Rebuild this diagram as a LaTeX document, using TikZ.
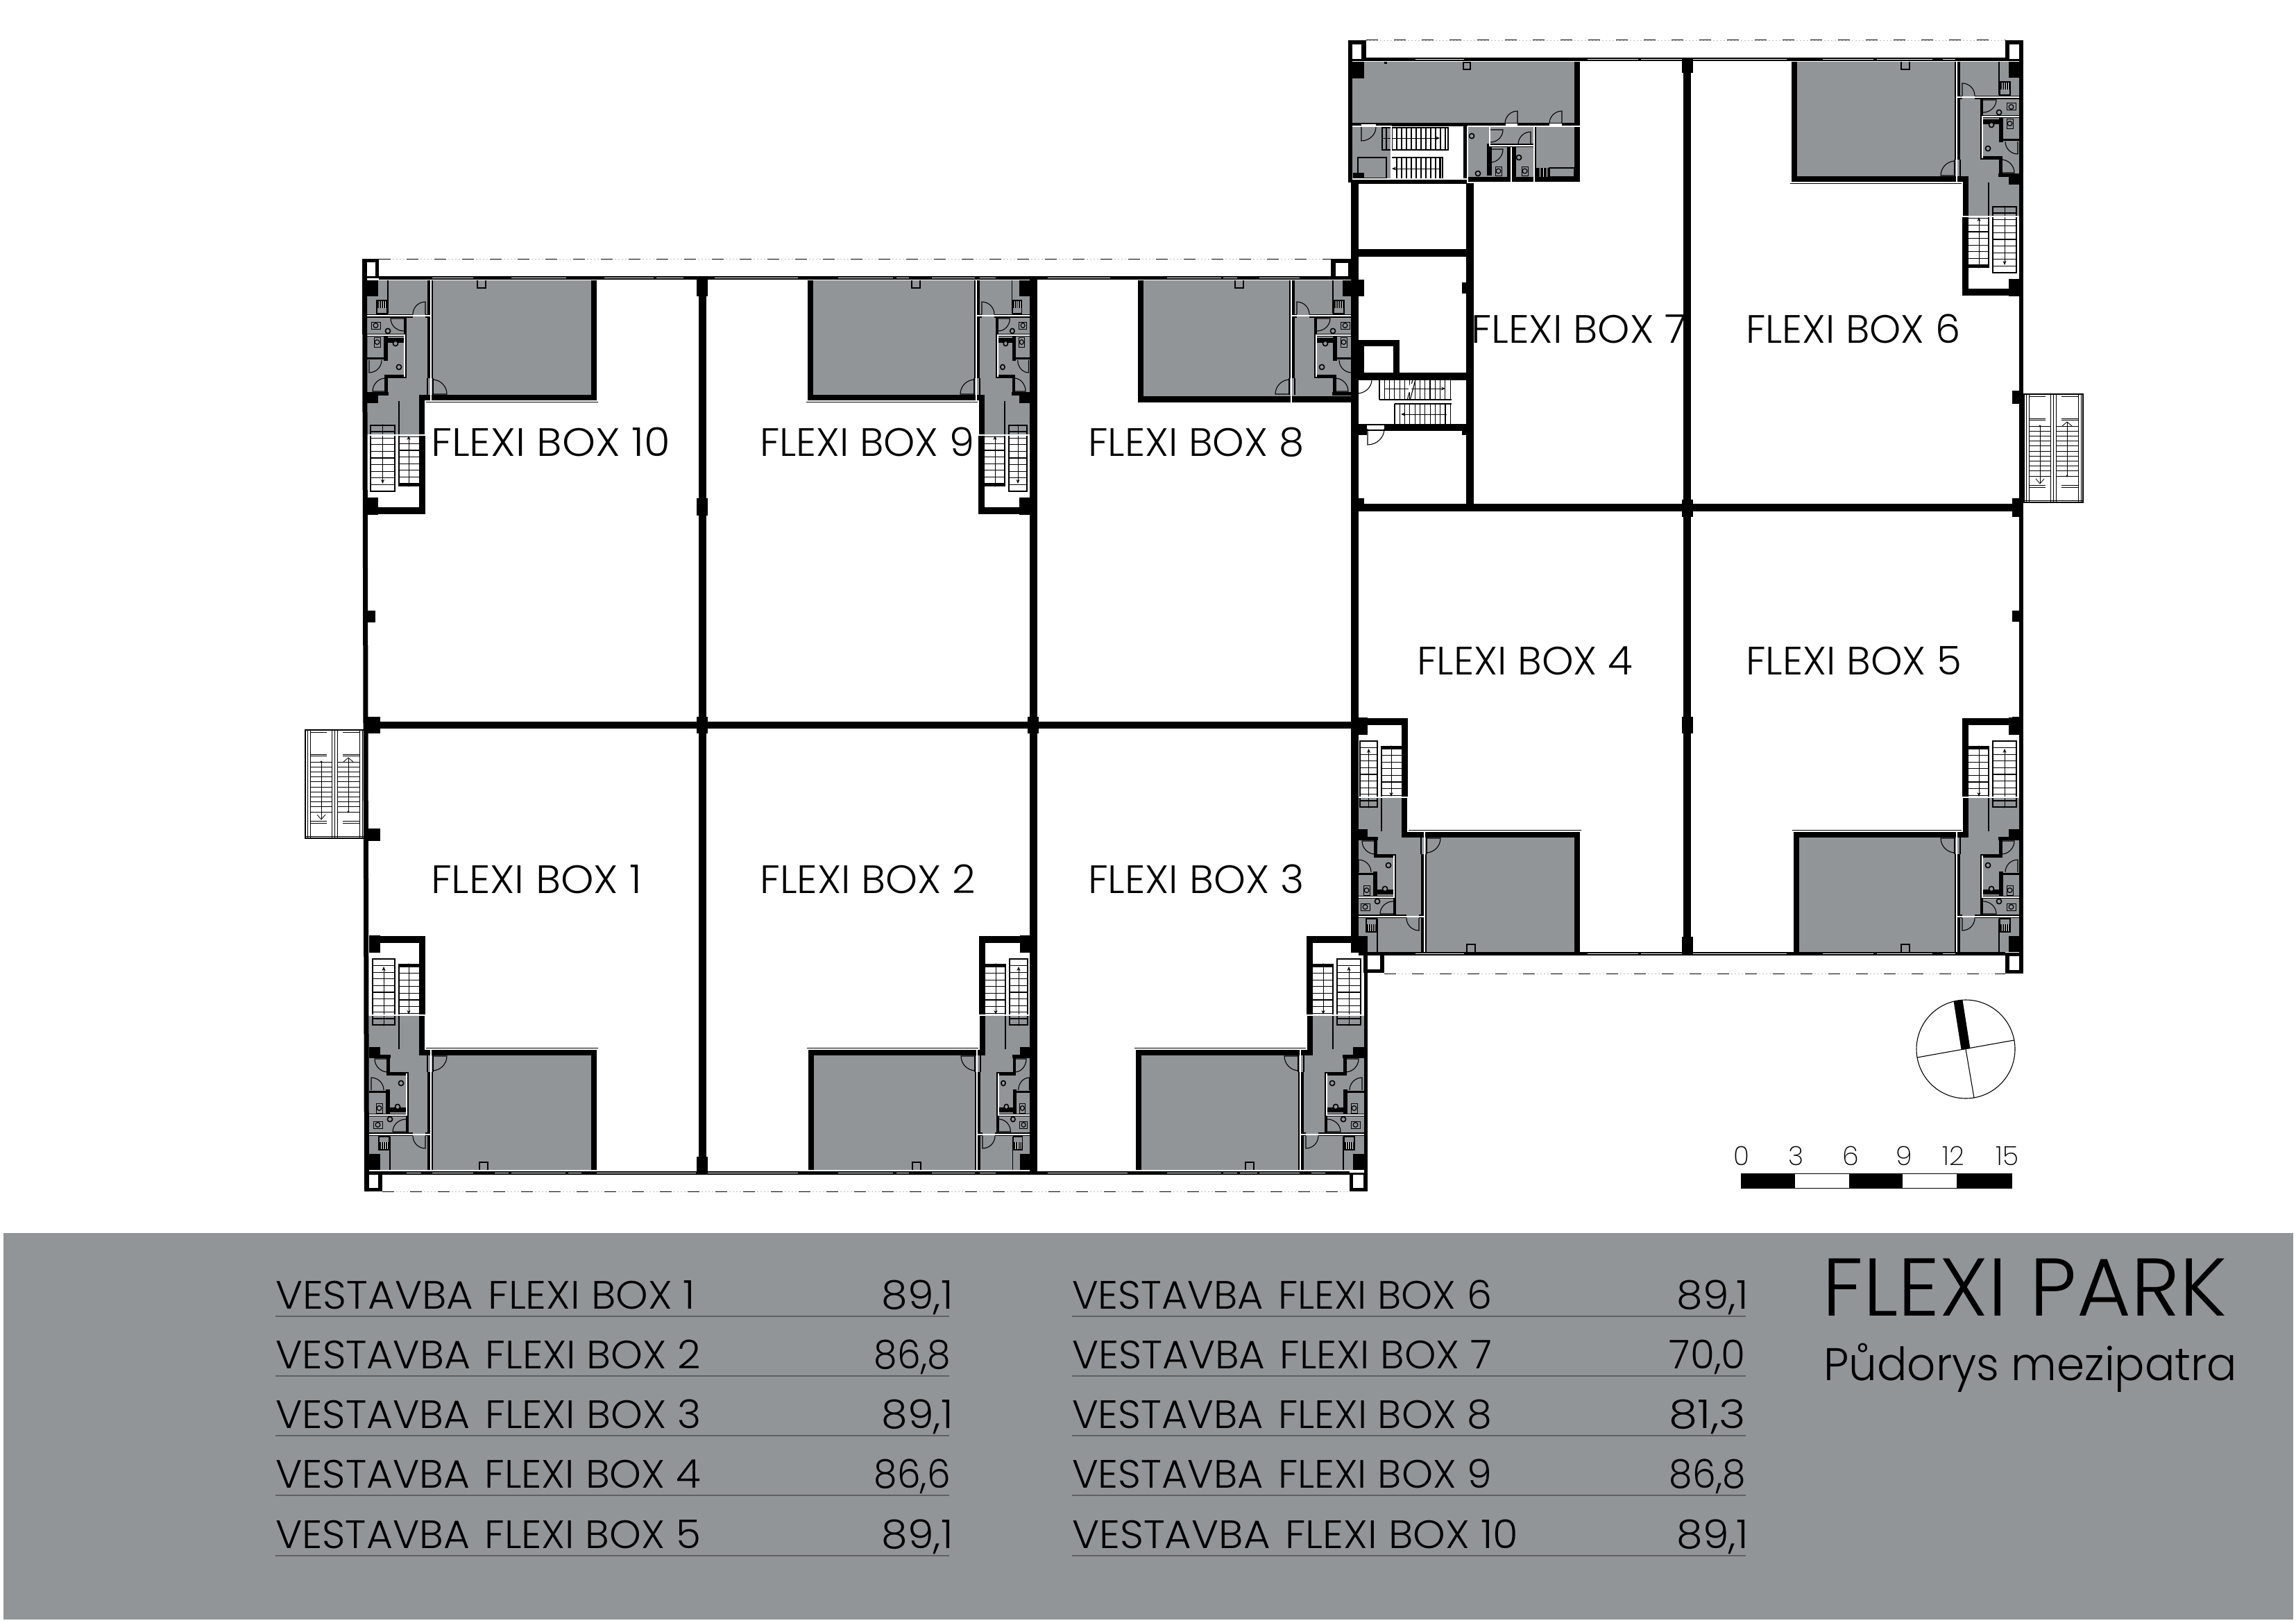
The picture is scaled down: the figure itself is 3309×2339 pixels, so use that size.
\documentclass[tikz,border=0pt]{standalone}
\usepackage{fontspec}
\usepackage{graphicx}
\setmainfont{Poppins Light}
\newfontfamily\thinfont{Poppins ExtraLight}
\usetikzlibrary{arrows.meta}
\definecolor{gry}{HTML}{929598}
\definecolor{rulegry}{HTML}{5E6063}
\tikzset{
  thin line/.style={line width=1.1pt,black},
  fine line/.style={line width=.8pt,black},
  arrowline/.style={line width=1pt,black,-{Stealth[length=6pt,width=5pt]}},
  whiteline/.style={line width=1.3pt,white},
}
\newcommand\WW[4]{\fill[black] (#1,#2) rectangle (#3,#4);}
% door: centre, vector A, vector B (leaf along A, arc to B)
\newcommand\door[6]{\draw[thin line] (#1,#2) -- ({#1+#3},{#2+#4}) .. controls ({#1+#3+.55*#5},{#2+#4+.55*#6}) and ({#1+#5+.55*#3},{#2+#6+.55*#4}) .. ({#1+#5},{#2+#6});}
\newcommand\cornerbox[8]{\fill[black] (#1,#2) rectangle (#3,#4); \fill[white] (#5,#6) rectangle (#7,#8);}
\newcommand\wc[4]{\draw[line width=1pt,black] (#1,#2) rectangle ++(#3,#4); \draw[line width=1.2pt,black] ({#1+.5*#3},{#2+.5*#4}) circle [x radius=3.4pt,y radius=3.4pt];}
\newcommand\sink[2]{\draw[line width=1.6pt,black,fill=gry] (#1,#2) circle [radius=3.6pt];}
\newcommand\flexiunit[9]{%
\begin{scope}[shift={(#1,#2)},xscale=#3,yscale=#4]
\def\ucw{#5}\def\usl{#6}\def\usr{#7}\def\utw{#8}
\ifnum#9=1
 \foreach \k in {0,...,9} {
   \draw[thin line] (5,{-305+9.6*\k}) -- ({\ucw-44},{-305+9.6*\k});
 }
 \foreach \k in {0,...,7} {
   \draw[thin line] ({\ucw-38},{-294+9.6*\k}) -- ({\ucw-9},{-294+9.6*\k});
 }
 \fill[gry] (-1,-224) -- ({\ucw},-224) -- ({\ucw},-175) -- ({\usr},-175) -- ({\usr},0) -- (-1,0) -- cycle;
 \draw[thin line] (5,-305) rectangle ({\ucw-44},-210);
 \draw[thin line] (5,-219) -- ({\ucw-44},-219);
 \draw[thin line] ({\ucw-38},-175) -- ({\ucw-38},-297) -- ({\ucw-9},-297);
 \draw[line width=2.2pt,black] ({\ucw-38},-295) -- ({\ucw-9},-295);
 \draw[arrowline] ({.5*(\ucw-39)},-210) -- ({.5*(\ucw-39)},-294);
 \fill[black] ({.5*(\ucw-39)},-210) circle [radius=1.6pt];
 \draw[arrowline] ({\ucw-24},-297) -- ({\ucw-24},-225);
 \fill[black] ({\ucw-24},-297) circle [radius=1.6pt];
 \WW{0}{-339}{16}{-314}
 \WW{16}{-338}{\ucw}{-328}
 \WW{\ucw-9}{-338}{\ucw}{-170}
 \WW{\ucw-9}{-177}{\usr+1}{-166}
 \WW{\usl-1}{-172}{\usl+8}{-166}
 \WW{0}{-178}{16}{-165}
\else
 \fill[gry] (-1,-178) rectangle ({\usr},0);
 \WW{0}{-177}{\usr+1}{-168}
\fi
\WW{\usr-9}{-177}{\usr+1}{0}
\WW{\usl}{-142}{\usl+8}{0}
\draw[thin line] (\usl,-166) -- (\usl,-142);
\draw[thin line] ({\usl+8},-166) -- ({\usl+8},-142);
\door{\usl+7}{-165}{21}{0}{0}{21}
\door{\usl-3}{-50}{0}{18}{-18}{0}
\draw[thin line] (159,-12) rectangle (171,0);
\WW{0}{-24}{16}{0}
\begin{scope}[xscale=\utw]
 \WW{0}{-167}{31}{-162}
 \WW{25}{-164}{30}{-137}
 \WW{25}{-142}{57}{-137}
 \WW{53}{-142}{57}{-52}
 \WW{24}{-117}{30}{-82}
 \WW{0}{-115}{24}{-112}
 \WW{30}{-91}{53}{-84}
 \WW{0}{-82}{53}{-78}
 \WW{0}{-55}{55}{-50}
 \door{27}{-161}{-19}{0}{0}{19}
 \door{3}{-116}{0}{-18}{18}{0}
 \door{53}{-56}{-19}{0}{0}{-18}
 \wc{10}{-97}{9}{14}
 \sink{41}{-92}
 \sink{46}{-126}
 \wc{6}{-71}{13}{10}
 \sink{30}{-74}
 \WW{14}{-41}{29}{-30}
 \foreach \t in {17,20,23,26} {\draw[line width=.9pt,white] (\t,-41) -- (\t,-30);}
 \draw[thin line] (14,-49) rectangle (29,-30);
 \draw[thin line] (30,-49) -- (30,0);
 \draw[whiteline] (0,-80) -- (54,-80) -- (54,-140);
\end{scope}
\WW{55*\utw}{-55}{\usl-21}{-50}
\WW{\usl-3}{-55}{\usl}{-50}
\draw[whiteline] (0,-52) -- ({\usl+5},-52);
\ifnum#9=1
 \draw[whiteline] (-1,-224) -- ({\ucw},-224) -- ({\ucw},-175) -- ({\usr},-175) -- ({\usr},0) -- (-1,0);
 \draw[whiteline] ({\usl+5},-175) -- ({\usl+5},0);
\else
 \draw[whiteline] (-1,-178) -- ({\usr},-178) -- ({\usr},0) -- (-1,0);
 \draw[whiteline] ({\usl+5},-178) -- ({\usl+5},0);
\fi
\end{scope}}
\newcommand\stairbox[2]{%
\begin{scope}[shift={(#1,#2)}]
 \draw[line width=1.4pt,black] (0,0) rectangle (85,156);
 \foreach \xx in {3,7,38.5,42,46.5,78,82} {\draw[fine line] (\xx,0) -- (\xx,156);}
 \foreach \yy in {3,35,37,131,134} {
   \draw[fine line] (7,\yy) -- (31,\yy);
   \draw[fine line] (54,\yy) -- (78,\yy);
 }
 \draw[fine line] (0,153) -- (85,153);
 \foreach \k in {0,...,10} {
   \draw[fine line] (7,{46+7.2*\k}) -- (38,{46+7.2*\k});
   \draw[fine line] (47,{46+7.2*\k}) -- (78,{46+7.2*\k});
 }
 \draw[fine line] (23,46) -- (23,129);
 \fill[black] (23,46) circle [radius=1.6pt];
 \draw[fine line] (17,122) -- (23,129) -- (29,122);
 \draw[fine line] (62,118) -- (62,40);
 \fill[black] (62,118) circle [radius=1.6pt];
 \draw[fine line] (55,46) -- (62,40) -- (69,46);
\end{scope}}
\newcommand\dashrun[3]{%
 \draw[line width=.8pt,black!25,dash pattern=on 1.5pt off 3.5pt] (#1,#3) -- (#2,#3);
 \draw[line width=1pt,black,dash pattern=on 17pt off 23pt] (#1,#3) -- (#2,#3);}
\newcommand\boxlabel[4]{\node[anchor=base west,inner sep=0pt] (#4) at (#1,#2) {\resizebox{#3pt}{\height}{\fontsize{57pt}{60pt}\selectfont FLEXI BOX #4}};}
\newcommand\tablerow[7]{% x, baseline, width, number, value, valuex, valuewidth
 \node[anchor=base west,inner sep=0pt] at (#1,#2) {\resizebox{#3pt}{\height}{\fontsize{57pt}{60pt}\selectfont VESTAVBA\hspace{.37em}FLEXI BOX #4}};
 \node[anchor=base east,inner sep=0pt] at (#6,#2) {\resizebox{#7pt}{\height}{\fontsize{57pt}{60pt}\selectfont #5}};
 \draw[line width=1.4pt,rulegry] (#1,#2+11) -- (#1+971,#2+11);}
\begin{document}
\begin{tikzpicture}[x=1pt,y=-1pt]
\useasboundingbox (0,0) rectangle (3309,2339);
\fill[white] (0,0) rectangle (3309,2339);
% ---- stairs outside
\stairbox{440}{1052}
\stairbox{2917}{568}
% ---- units
\flexiunit{532}{1687}{1}{1}{81}{84}{329}{1}{1}
\flexiunit{529}{403}{1}{-1}{84}{87}{332}{1}{1}
\flexiunit{1486}{1687}{-1}{1}{75}{73}{322}{.87}{1}
\flexiunit{1485}{403}{-1}{-1}{75}{73}{322}{.87}{1}
\flexiunit{1966}{1687}{-1}{1}{83}{87}{330}{1}{1}
\flexiunit{1951}{403}{-1}{-1}{83}{85}{312}{1}{0}
\flexiunit{1955}{1373}{1}{1}{74}{93}{323}{1}{1}
\flexiunit{2911}{1373}{-1}{1}{83}{86}{327}{1}{1}
\flexiunit{2911}{88}{-1}{-1}{83}{86}{330}{1}{1}
% ---- top-left block of the right wing
\foreach \xx in {2013,2020,...,2087} {\draw[thin line] (\xx,184) -- (\xx,216);}
\foreach \xx in {2013,2020,...,2075} {\draw[thin line] (\xx,227) -- (\xx,257);}
\draw[thin line] (2006,184) -- (2087,184) -- (2087,216) -- (2006,216);
\draw[thin line] (2006,227) -- (2079,227) -- (2079,257);
\fill[gry] (1948,88) rectangle (2278,180);
\fill[gry] (1948,180) rectangle (2005,258);
\fill[gry] (2115,180) rectangle (2278,263);
\draw[thin line] (1992,184) rectangle (2006,216);
\draw[thin line] (1998,184) -- (1998,216);
\draw[arrowline] (1992,199) -- (2075,199);
\draw[arrowline] (2076,243) -- (2006,243);
\WW{2074}{227}{2077}{257}
\draw[thin line] (1957,227) rectangle (1998,257);
\WW{1949}{88}{1966}{113}
\WW{1950}{249}{1966}{257}
\WW{1948}{177}{2269}{182}
\WW{2269}{88}{2278}{263}
\WW{1948}{257}{2115}{265}
\WW{2109}{180}{2115}{258}
\WW{2115}{255}{2278}{263}
\WW{2143}{207}{2150}{253}
\WW{2143}{207}{2210}{212}
\WW{2172}{212}{2177}{255}
\WW{2179}{212}{2185}{255}
\WW{2210}{182}{2214}{263}
\fill[white] (1962,179) rectangle (1983,181);
\fill[white] (2170,178) rectangle (2187,181);
\fill[white] (2233,178) rectangle (2251,181);
\door{2187}{178}{0}{-18}{-18}{0}
\door{2251}{178}{0}{-18}{-18}{0}
\door{1962}{183}{0}{20}{21}{0}
\door{2148}{187}{18}{0}{0}{18}
\door{2206}{208}{0}{-18}{-18}{0}
\door{2148}{215}{18}{0}{0}{19}
\sink{2121}{196}
\sink{2130}{250}
\wc{2155}{240}{9}{13}
\wc{2193}{240}{9}{13}
\sink{2189}{227}
\WW{2214}{242}{2233}{255}
\foreach \t in {2219,2224,2229} {\draw[line width=.9pt,white] (\t,242) -- (\t,255);}
\draw[thin line] (2233,242) rectangle (2269,255);
\draw[thin line] (2109,90) rectangle (2119,100);
\fill[black] (1995,89) rectangle (1999,92);
\draw[whiteline] (1948,88) -- (2278,88) -- (2278,263) -- (2115,263) -- (2115,182) (2115,263) -- (2115,258) -- (2005,258) -- (1948,258) -- (1948,88);
\draw[whiteline] (1948,182) -- (2005,182) -- (2005,258);
\draw[whiteline] (2115,182) -- (2278,182);
\draw[whiteline] (2147,182) -- (2147,210) -- (2211,210);
\draw[whiteline] (2178,212) -- (2178,263);
\draw[whiteline] (2211,182) -- (2211,263);
% ---- staircase beside FLEXI BOX 8
\foreach \xx in {1988,1995.3,...,2092} {\draw[thin line] (\xx,547) -- (\xx,576);}
\foreach \xx in {2010,2017.3,...,2092} {\draw[thin line] (\xx,582) -- (\xx,611);}
\draw[thin line] (1988,576) -- (2092,576);
\draw[thin line] (2010,582) -- (2092,582);
\draw[arrowline] (1995,560) -- (2083,560);
\draw[arrowline] (2085,597) -- (2019,597);
\draw[thin line] (2028,577) -- (2036,547);
\draw[thin line] (2032,577) -- (2040,547);
\fill[white] (2029,565) -- (2033,565) -- (2036,553) -- (2032,553) -- cycle;
\door{1956}{547}{21}{0}{0}{20}
\door{1971}{618}{0}{23}{24}{0}
% ---- walls of left wing
\fill[black] (522,373) -- (529,373) -- (532,1717) -- (525,1717) -- cycle;
\WW{546}{398}{1948}{403}
\WW{532}{1688}{1945}{1693}
\WW{525}{1040}{1958}{1050}
\WW{1007}{403}{1018}{1690}
\WW{1484}{403}{1495}{1690}
\foreach \yy/\yb in {403/427,718/743,1033/1057,1667/1690} {\WW{1004}{\yy}{1020}{\yb}}
\WW{1481}{1033}{1497}{1057}
\WW{525}{1033}{548}{1057}
\WW{525}{1194}{548}{1212}
\WW{525}{880}{541}{897}
% ---- walls of right wing
\WW{1943}{58}{1949}{263}
\WW{1947}{263}{1958}{1373}
\WW{1966}{1373}{1971}{1717}
\WW{1948}{1350}{1963}{1373}
\WW{1969}{83}{2890}{88}
\WW{1958}{1372}{2890}{1377}
\WW{2910}{58}{2916}{1403}
\WW{1958}{726}{2916}{737}
\WW{2426}{88}{2437}{1373}
\foreach \yy/\yb in {88/105,720/745,1033/1057,1350/1373} {\WW{2424}{\yy}{2440}{\yb}}
\WW{2113}{264}{2124}{727}
\WW{1958}{359}{2114}{370}
\WW{1948}{537}{2114}{548}
\WW{1995}{611}{2114}{621}
\WW{1948}{611}{1970}{627}
\WW{1958}{718}{1966}{736}
\WW{1958}{403}{1966}{427}
\WW{2107}{407}{2114}{423}
\WW{2107}{620}{2114}{627}
\WW{1958}{490}{2017}{499}
\WW{2008}{490}{2017}{540}
\WW{1948}{490}{1966}{545}
\draw[thin line] (1970,612) -- (1995,612);
\draw[thin line] (1970,620) -- (1995,620);
\WW{1958}{1034}{1966}{1057}
\WW{2900}{718}{2911}{745}
\WW{2900}{880}{2911}{896}
\WW{2900}{563}{2911}{582}
\WW{2900}{1033}{2911}{1057}
% ---- corners
\cornerbox{522}{373}{546}{401}{529}{378}{541}{398}
\cornerbox{525}{1690}{551}{1717}{532}{1693}{545}{1712}
\cornerbox{1945}{1690}{1971}{1717}{1950}{1693}{1965}{1712}
\cornerbox{1943}{58}{1969}{88}{1949}{64}{1962}{85}
\cornerbox{2890}{58}{2916}{88}{2896}{64}{2910}{85}
\cornerbox{2890}{1373}{2916}{1403}{2896}{1378}{2910}{1398}
\cornerbox{1965}{1375}{1995}{1402}{1971}{1377}{1989}{1397}
\cornerbox{1918}{373}{1948}{401}{1925}{379}{1943}{398}
% ---- window stripes
\foreach \a/\b in {623/682,737/816,871/942,946/985,1030/1150,1208/1287,1292/1310,1343/1405,1412/1435,1510/1600,1682/1760,1763/1783,1815/1873}
  {\draw[line width=1.6pt,white] (\a,400.5) -- (\b,400.5);}
\foreach \a/\b in {586/607,623/682,713/733,737/815,819/838,860/1003,1020/1150,1208/1287,1292/1310,1343/1405,1412/1435,1510/1625,1682/1760,1763/1783,1787/1812,1815/1873,1890/1910}
  {\draw[line width=1.6pt,white] (\a,1690.5) -- (\b,1690.5);}
\foreach \a/\b in {2040/2110,2288/2361,2365/2424,2440/2575,2627/2700,2705/2785,2800/2818}
  {\draw[line width=1.6pt,white] (\a,85.5) -- (\b,85.5);}
\foreach \a/\b in {2040/2110,2288/2361,2365/2424,2440/2575,2627/2700,2705/2785,2800/2818}
  {\draw[line width=1.6pt,white] (\a,1374.5) -- (\b,1374.5);}
% ---- dashed overhang lines
\dashrun{546}{1918}{373}
\dashrun{551}{1945}{1717}
\dashrun{1969}{2890}{58}
\dashrun{1995}{2890}{1403}
% ---- labels
\boxlabel{621}{657}{345}{10}
\boxlabel{1095}{657}{309}{9}
\boxlabel{1568}{657}{311}{8}
\boxlabel{2120}{494}{311}{7}
\boxlabel{2516}{494}{309}{6}
\boxlabel{2042}{972}{311}{4}
\boxlabel{2516}{972}{311}{5}
\boxlabel{621}{1287}{304}{1}
\boxlabel{1095}{1287}{311}{2}
\boxlabel{1568}{1287}{311}{3}
% ---- north sign
\coordinate (nc) at (2833,1512);
\coordinate (nt) at (2822,1442);
\coordinate (nb) at (2845,1582);
\coordinate (nl) at (2763,1524);
\coordinate (nr) at (2903,1499);
\draw[line width=1.1pt] (nc) circle [radius=71pt];
\draw[line width=1.1pt] (nl) -- (nr);
\draw[line width=1.1pt] (nc) -- (nb);
\draw[line width=13pt] (nc) -- (nt);
% ---- scale bar
\draw[line width=1pt,fill=white] (2509,1691) rectangle (2899,1712);
\WW{2509}{1691}{2587}{1712}
\WW{2665}{1691}{2742}{1712}
\WW{2820}{1691}{2899}{1712}
\foreach \lab/\xx in {0/2510,3/2588,6/2667,9/2744,12/2815,15/2893}
  {\node[anchor=base,inner sep=0pt] at (\xx,1679) {\fontsize{38pt}{40pt}\thinfont \lab};}
% ---- panel
\fill[gry] (5,1777) rectangle (3305,2334);
\tablerow{397}{1886}{605}{1}{89,1}{1374}{103}
\tablerow{397}{1972}{613}{2}{86,8}{1370}{110}
\tablerow{397}{2058}{613}{3}{89,1}{1374}{103}
\tablerow{397}{2144}{613}{4}{86,6}{1370}{110}
\tablerow{397}{2231}{613}{5}{89,1}{1374}{103}
\tablerow{1545}{1886}{605}{6}{89,1}{2520}{103}
\tablerow{1545}{1972}{605}{7}{70,0}{2516}{110}
\tablerow{1545}{2058}{605}{8}{81,3}{2516}{110}
\tablerow{1545}{2144}{605}{9}{86,8}{2516}{110}
\tablerow{1545}{2231}{643}{10}{89,1}{2520}{103}
\node[anchor=base west,inner sep=0pt] (title) at (2626,1896) {\resizebox{583pt}{\height}{\fontsize{118pt}{120pt}\selectfont FLEXI PARK}};
\node[anchor=base west,inner sep=0pt] (subtitle) at (2628,1989) {\resizebox{596pt}{\height}{\fontsize{66pt}{70pt}\selectfont Půdorys mezipatra}};
\end{tikzpicture}
\end{document}
